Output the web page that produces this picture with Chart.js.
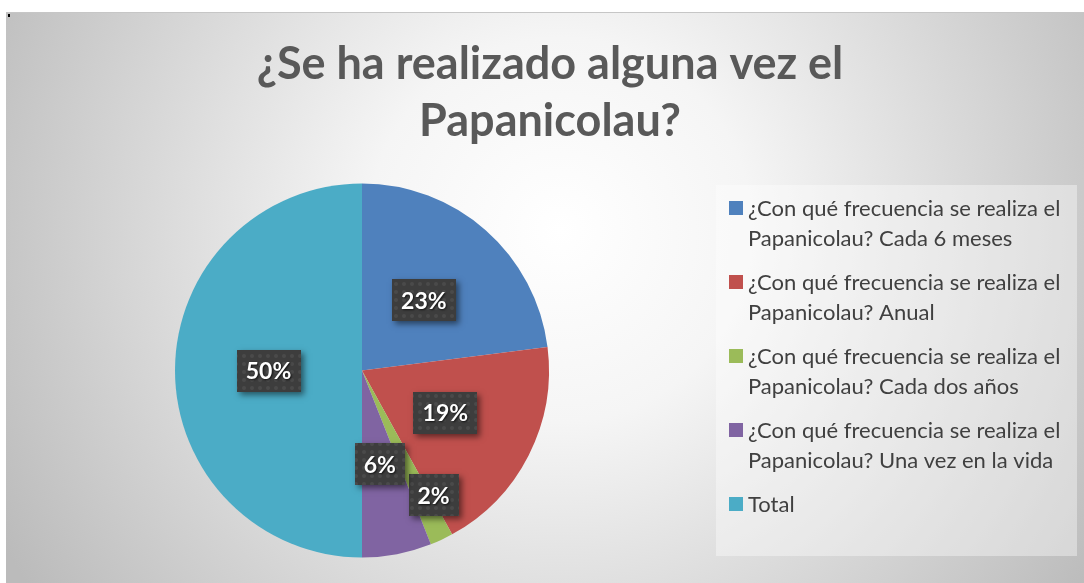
<!DOCTYPE html>
<html>
<head>
<meta charset="utf-8">
<script src="https://cdn.jsdelivr.net/npm/chart.js@4/dist/chart.umd.min.js"></script>
<style>
  html, body { margin: 0; padding: 0; background: #fff; }
  #wrap { width: 1084px; height: 583px; }
</style>
</head>
<body>
<div id="wrap"><canvas id="chart" width="1084" height="583"></canvas></div>
<script>
// chart data
const titleLines = ['¿Se ha realizado alguna vez el', 'Papanicolau?'];
const categories = [
  '¿Con qué frecuencia se realiza el Papanicolau? Cada 6 meses',
  '¿Con qué frecuencia se realiza el Papanicolau? Anual',
  '¿Con qué frecuencia se realiza el Papanicolau? Cada dos años',
  '¿Con qué frecuencia se realiza el Papanicolau? Una vez en la vida',
  'Total'
];
const values = [23, 19, 2, 6, 50];
const valueLabels = ['23%', '19%', '2%', '6%', '50%'];
const sliceColors = ['#4F81BD', '#C0504D', '#9BBB59', '#8064A2', '#4BACC6'];
// how far out (fraction of radius) each data label sits, and a small angle nudge
const labelRadius = [0.5, 0.5, 0.77, 0.51, 0.5];
const labelNudge = [0, 0, -0.08, 0, 0];

const W = 1084, H = 583;

// dotted texture for the label boxes
const makeDots = () => {
  const c = document.createElement('canvas');
  c.width = 8; c.height = 8;
  const g = c.getContext('2d');
  g.fillStyle = '#3d3d3d';
  g.fillRect(0, 0, 8, 8);
  g.fillStyle = 'rgba(255,255,255,0.07)';
  g.beginPath(); g.arc(4, 4, 2, 0, Math.PI * 2); g.fill();
  return c;
};
const dotTile = makeDots();

const backgroundPlugin = {
  id: 'bg',
  beforeDraw(chart) {
    const ctx = chart.ctx;
    ctx.save();
    ctx.fillStyle = '#ffffff';
    ctx.fillRect(0, 0, W, H);
    const grad = ctx.createRadialGradient(560, 230, 0, 560, 230, 640);
    grad.addColorStop(0, '#ffffff');
    grad.addColorStop(0.3, '#f5f5f5');
    grad.addColorStop(1, '#bbbbbb');
    ctx.fillStyle = grad;
    ctx.fillRect(6, 12, W - 6, H - 12);
    ctx.fillStyle = '#c6c6c6';
    ctx.fillRect(6, 12, W - 6, 1);
    ctx.fillStyle = '#000';
    ctx.fillRect(8, 14, 2, 3);
    ctx.restore();
  }
};

const titlePlugin = {
  id: 'bigTitle',
  afterDraw(chart) {
    const ctx = chart.ctx;
    ctx.save();
    ctx.font = 'bold 45px Lato';
    ctx.fillStyle = '#595959';
    ctx.textAlign = 'center';
    ctx.textBaseline = 'alphabetic';
    ctx.fillText(titleLines[0], 550, 79);
    ctx.fillText(titleLines[1], 550, 136);
    ctx.restore();
  }
};

const wrapText = (ctx, text, maxW) => {
  const words = text.split(' ');
  const lines = [];
  let cur = '';
  words.forEach(w => {
    const test = cur ? cur + ' ' + w : w;
    if (ctx.measureText(test).width > maxW && cur) {
      lines.push(cur);
      cur = w;
    } else {
      cur = test;
    }
  });
  if (cur) lines.push(cur);
  return lines;
};

const legendPlugin = {
  id: 'sideLegend',
  afterDraw(chart) {
    const ctx = chart.ctx;
    const box = { x: 716, y: 185, w: 361, h: 371 };
    ctx.save();
    ctx.fillStyle = 'rgba(255,255,255,0.38)';
    ctx.fillRect(box.x, box.y, box.w, box.h);
    ctx.font = '22px Lato';
    ctx.textBaseline = 'alphabetic';
    let baseline = 216;
    chart.data.labels.forEach((label, i) => {
      ctx.fillStyle = chart.data.datasets[0].backgroundColor[i];
      ctx.fillRect(729, baseline - 15, 14, 14);
      ctx.fillStyle = '#404040';
      const lines = wrapText(ctx, label, 325);
      lines.forEach((ln, j) => ctx.fillText(ln, 748, baseline + j * 30));
      baseline += 74;
    });
    ctx.restore();
  }
};

const dataLabelPlugin = {
  id: 'boxLabels',
  afterDatasetsDraw(chart) {
    const ctx = chart.ctx;
    const meta = chart.getDatasetMeta(0);
    ctx.save();
    ctx.font = 'bold 23px Lato';
    meta.data.forEach((arc, i) => {
      const p = arc.getProps(['x', 'y', 'startAngle', 'endAngle', 'outerRadius'], true);
      const mid = (p.startAngle + p.endAngle) / 2 + labelNudge[i];
      const r = p.outerRadius * labelRadius[i];
      const cx = p.x + Math.cos(mid) * r;
      const cy = p.y + Math.sin(mid) * r;
      const text = valueLabels[i];
      const tw = ctx.measureText(text).width;
      const bw = Math.round(tw + 18), bh = 42;
      const bx = Math.round(cx - bw / 2), by = Math.round(cy - bh / 2);

      ctx.save();
      ctx.shadowColor = 'rgba(0,0,0,0.5)';
      ctx.shadowBlur = 6;
      ctx.shadowOffsetX = 3;
      ctx.shadowOffsetY = 3;
      ctx.fillStyle = '#3d3d3d';
      ctx.fillRect(bx, by, bw, bh);
      ctx.restore();

      ctx.fillStyle = ctx.createPattern(dotTile, 'repeat');
      ctx.fillRect(bx, by, bw, bh);

      ctx.save();
      ctx.shadowColor = 'rgba(0,0,0,0.7)';
      ctx.shadowBlur = 2;
      ctx.shadowOffsetX = 1;
      ctx.shadowOffsetY = 1;
      ctx.fillStyle = '#ffffff';
      ctx.textAlign = 'center';
      ctx.textBaseline = 'middle';
      ctx.fillText(text, cx, cy + 1);
      ctx.restore();
    });
    ctx.restore();
  }
};

new Chart(document.getElementById('chart'), {
  type: 'pie',
  data: {
    labels: categories,
    datasets: [{
      data: values,
      backgroundColor: sliceColors,
      borderWidth: 0
    }]
  },
  options: {
    responsive: false,
    animation: false,
    devicePixelRatio: 1,
    layout: {
      padding: { top: 183.5, left: 175, right: 535, bottom: 25.5 }
    },
    plugins: {
      legend: { display: false },
      title: { display: false },
      tooltip: { enabled: false }
    }
  },
  plugins: [backgroundPlugin, dataLabelPlugin, titlePlugin, legendPlugin]
});
</script>
</body>
</html>
